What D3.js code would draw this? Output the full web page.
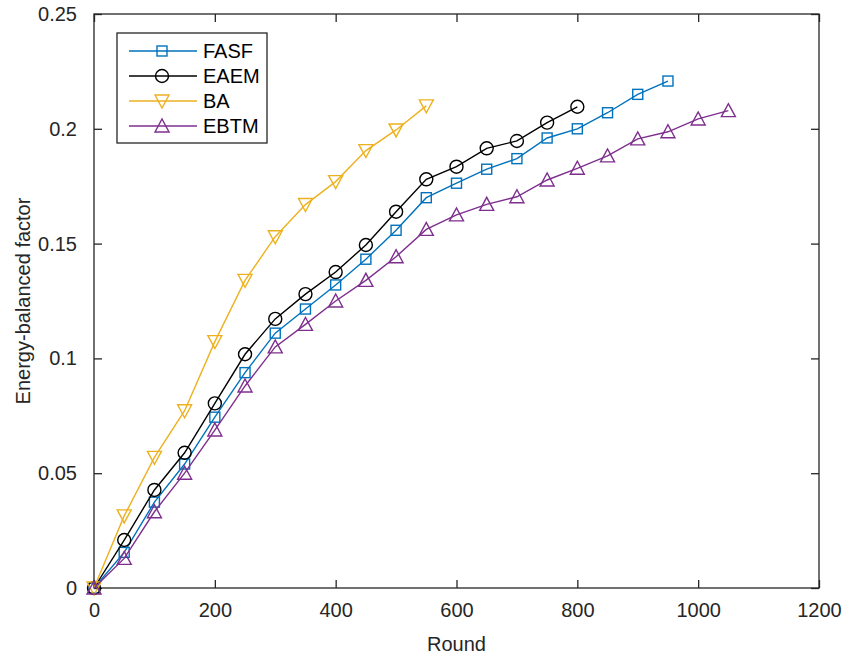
<!DOCTYPE html>
<html>
<head>
<meta charset="utf-8">
<script src="https://cdn.jsdelivr.net/npm/d3@7"></script>
<style>
  body { margin: 0; background: #fff; }
  svg { display: block; font-family: "Liberation Sans", Arial, sans-serif; }
  .line { fill: none; stroke-width: 1.4; }
  .marker { fill: none; stroke-width: 1.4; }
</style>
</head>
<body>
<div id="chart"></div>
<script>
// data
const fasfRounds = d3.range(0, 951, 50);
const fasfValues = [0, 0.0155, 0.0374, 0.054, 0.0744, 0.0938, 0.111, 0.1215, 0.132, 0.1432,
  0.1558, 0.170, 0.1763, 0.1824, 0.187, 0.196, 0.200, 0.207, 0.215, 0.2208];

const eaemRounds = d3.range(0, 801, 50);
const eaemValues = [0, 0.0209, 0.0427, 0.0589, 0.0804, 0.1018, 0.1172, 0.128, 0.1376, 0.1494,
  0.1639, 0.178, 0.1835, 0.1915, 0.1947, 0.2027, 0.2096];

const baRounds = d3.range(0, 551, 50);
const baValues = [0, 0.0314, 0.0569, 0.0772, 0.1073, 0.134, 0.153, 0.167, 0.177, 0.1905, 0.1995, 0.210];

const ebtmRounds = d3.range(0, 1051, 50);
const ebtmValues = [0, 0.0129, 0.0332, 0.050, 0.0688, 0.088, 0.105, 0.1148, 0.125, 0.134,
  0.1443, 0.1562, 0.1625, 0.1671, 0.1704, 0.1777, 0.1828, 0.1882, 0.1956, 0.1987, 0.2043, 0.2079];

const xTicks = [0, 200, 400, 600, 800, 1000, 1200];
const yTicks = [0, 0.05, 0.1, 0.15, 0.2, 0.25];

const series = [
  { name: 'FASF', color: '#0072BD', marker: 'square', rounds: fasfRounds, values: fasfValues },
  { name: 'EAEM', color: '#000000', marker: 'circle', rounds: eaemRounds, values: eaemValues },
  { name: 'BA', color: '#EDB120', marker: 'down', rounds: baRounds, values: baValues },
  { name: 'EBTM', color: '#7E2F8E', marker: 'up', rounds: ebtmRounds, values: ebtmValues }
];

const width = 847;
const height = 659;
const margin = { left: 94, top: 14, right: 28, bottom: 71 };
const innerW = width - margin.left - margin.right;
const innerH = height - margin.top - margin.bottom;
const axisColor = '#262626';

const svg = d3.select('#chart').append('svg')
    .attr('width', width)
    .attr('height', height);

const g = svg.append('g')
    .attr('transform', 'translate(' + margin.left + ',' + margin.top + ')');

const xScale = d3.scaleLinear().domain([0, 1200]).range([0, innerW]);
const yScale = d3.scaleLinear().domain([0, 0.25]).range([innerH, 0]);

// axes, MATLAB style: ticks inward on all four sides
const tickLen = 8;
const xAxis = d3.axisBottom(xScale).tickValues(xTicks).tickSize(-tickLen).tickPadding(tickLen + 7)
    .tickFormat(d3.format('d'));
const yAxis = d3.axisLeft(yScale).tickValues(yTicks).tickSize(-tickLen).tickPadding(tickLen + 9)
    .tickFormat(d => d === 0 ? '0' : String(+d.toFixed(2)));

g.append('g')
    .attr('class', 'x axis')
    .attr('transform', 'translate(0,' + innerH + ')')
    .call(xAxis);
g.append('g')
    .attr('class', 'y axis')
    .call(yAxis);
g.append('g')
    .attr('transform', 'translate(0,0)')
    .call(d3.axisTop(xScale).tickValues(xTicks).tickSize(-tickLen).tickFormat(''));
g.append('g')
    .attr('transform', 'translate(' + innerW + ',0)')
    .call(d3.axisRight(yScale).tickValues(yTicks).tickSize(-tickLen).tickFormat(''));

g.selectAll('.domain').remove();
g.selectAll('.tick line').attr('stroke', axisColor).attr('stroke-width', 1.3);
g.selectAll('.tick text')
    .attr('fill', axisColor)
    .style('font-size', '20px');

g.append('rect')
    .attr('width', innerW)
    .attr('height', innerH)
    .attr('fill', 'none')
    .attr('stroke', axisColor)
    .attr('stroke-width', 1.3);

// axis labels
svg.append('text')
    .attr('x', margin.left + innerW / 2)
    .attr('y', 651)
    .attr('text-anchor', 'middle')
    .attr('fill', axisColor)
    .style('font-size', '20px')
    .text('Round');

svg.append('text')
    .attr('transform', 'translate(30,' + (margin.top + innerH / 2) + ') rotate(-90)')
    .attr('text-anchor', 'middle')
    .attr('fill', axisColor)
    .style('font-size', '20px')
    .text('Energy-balanced factor');

// marker drawing
function drawMarker(sel, type, color) {
    if (type === 'square') {
        sel.append('rect')
            .attr('x', -5).attr('y', -5)
            .attr('width', 10).attr('height', 10)
            .attr('class', 'marker').attr('stroke', color);
    } else if (type === 'circle') {
        sel.append('circle')
            .attr('r', 6.5)
            .attr('class', 'marker').attr('stroke', color);
    } else if (type === 'down') {
        sel.append('path')
            .attr('d', 'M-7,-6L7,-6L0,7Z')
            .attr('class', 'marker').attr('stroke', color);
    } else {
        sel.append('path')
            .attr('d', 'M-7,6L7,6L0,-7Z')
            .attr('class', 'marker').attr('stroke', color);
    }
}

const line = d3.line()
    .x(d => xScale(d[0]))
    .y(d => yScale(d[1]));

series.forEach(s => {
    const pts = s.rounds.map((r, i) => [r, s.values[i]]);
    const sg = g.append('g');
    sg.append('path')
        .datum(pts)
        .attr('class', 'line')
        .attr('stroke', s.color)
        .attr('d', line);
    sg.selectAll('.pt')
        .data(pts)
        .enter().append('g')
        .attr('class', 'pt')
        .attr('transform', d => 'translate(' + xScale(d[0]) + ',' + yScale(d[1]) + ')')
        .each(function() { drawMarker(d3.select(this), s.marker, s.color); });
});

// legend
const legend = svg.append('g')
    .attr('transform', 'translate(117,33)');
legend.append('rect')
    .attr('width', 150)
    .attr('height', 110)
    .attr('fill', '#fff')
    .attr('stroke', axisColor)
    .attr('stroke-width', 1.3);

series.forEach((s, i) => {
    const y = 18 + i * 25;
    const item = legend.append('g');
    item.append('line')
        .attr('x1', 12).attr('x2', 80)
        .attr('y1', y).attr('y2', y)
        .attr('stroke', s.color)
        .attr('stroke-width', 1.4);
    const m = item.append('g').attr('transform', 'translate(45,' + y + ')');
    drawMarker(m, s.marker, s.color);
    item.append('text')
        .attr('x', 86)
        .attr('y', y + 7)
        .attr('fill', '#000')
        .style('font-size', '20px')
        .text(s.name);
});
</script>
</body>
</html>
